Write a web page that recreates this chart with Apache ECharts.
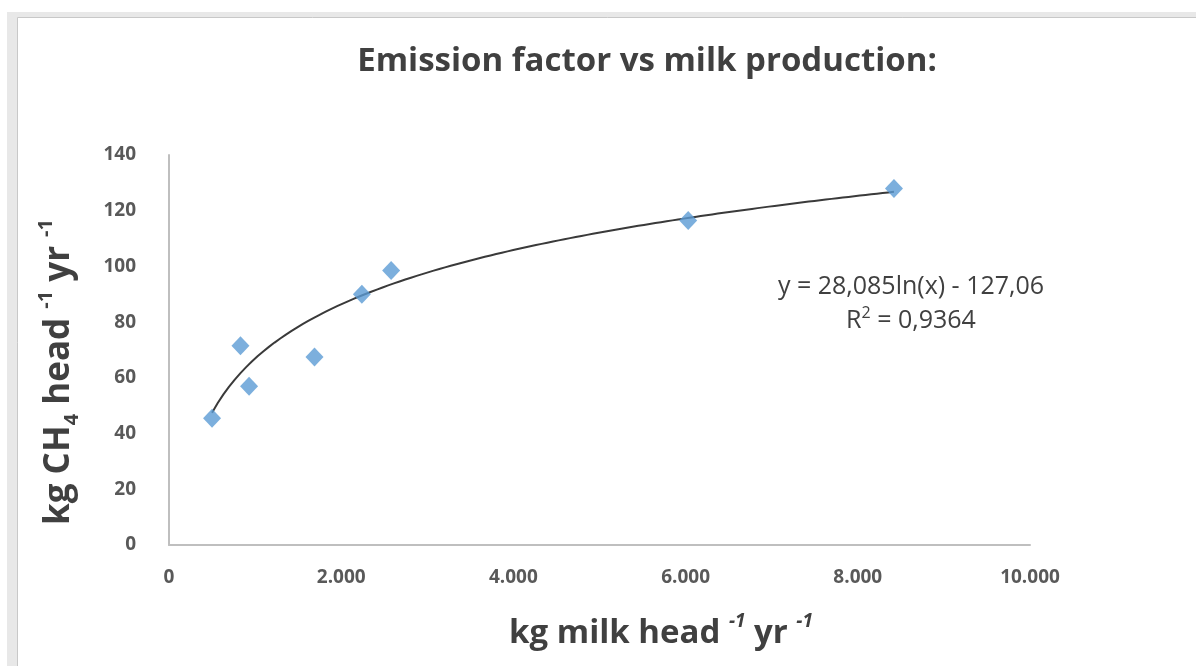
<!DOCTYPE html>
<html><head><meta charset="utf-8">
<script src="https://cdn.jsdelivr.net/npm/echarts@6/dist/echarts.min.js"></script>
<style>html,body{margin:0;padding:0;background:#fff}#c{width:1196px;height:666px}</style>
</head><body><div id="c"></div>
<script>
// data
const milk = [500, 830, 930, 1690, 2240, 2580, 6030, 8420];
const emission = [45.5, 71.5, 57, 67.5, 90, 98.5, 116.5, 128];
const xTicks = [0, 2000, 4000, 6000, 8000, 10000];
const yTicks = [0, 20, 40, 60, 80, 100, 120, 140];
// trendline shown in the chart: y = 28,085 ln(x) - 127,06
const trendA = 28.085, trendB = -127.06;
const trendXStart = 500, trendXEnd = 8420;

const trend = [];
for (let i = 0; i <= 120; i++) {
  const x = trendXStart + (trendXEnd - trendXStart) * i / 120;
  trend.push([x, trendA * Math.log(x) + trendB]);
}
const pts = milk.map((x, i) => [x, emission[i]]);
const FONT = 'Open Sans';
const fmt = v => String(v).replace(/\B(?=(\d{3})+(?!\d))/g, '.');

const chart = echarts.init(document.getElementById('c'), null, {renderer: 'canvas'});
chart.setOption({
  animation: false,
  backgroundColor: '#fff',
  grid: {left: 169, right: 166, top: 155, bottom: 121},
  xAxis: {
    type: 'value', min: xTicks[0], max: xTicks[xTicks.length - 1], interval: 2000,
    splitLine: {show: false},
    axisLine: {show: true, lineStyle: {color: '#bfbfbf', width: 2}},
    axisTick: {show: false},
    axisLabel: {margin: 23, fontFamily: FONT, fontWeight: 'bold', fontSize: 19, color: '#595959', formatter: fmt}
  },
  yAxis: {
    type: 'value', min: yTicks[0], max: yTicks[yTicks.length - 1], interval: 20,
    splitLine: {show: false},
    axisLine: {show: true, lineStyle: {color: '#bfbfbf', width: 2}},
    axisTick: {show: false},
    axisLabel: {margin: 33, fontFamily: FONT, fontWeight: 'bold', fontSize: 19, color: '#595959'}
  },
  series: [
    {type: 'line', data: trend, showSymbol: false, smooth: false,
     lineStyle: {color: '#3a3a3a', width: 2}, z: 2},
    {type: 'scatter', data: pts, symbol: 'diamond', symbolSize: [18, 19],
     itemStyle: {color: '#5b9bd5'}, z: 3}
  ],
  graphic: [
    {type: 'rect', z: -10, shape: {x: 7, y: 12, width: 1200, height: 700}, style: {fill: '#e8e8e8'}},
    {type: 'rect', z: -9, shape: {x: 17.5, y: 17.5, width: 1200, height: 700}, style: {fill: '#fff', stroke: '#c8c8c8', lineWidth: 1}},
    {type: 'text', x: 647, y: 62,
     style: {text: 'Emission factor vs milk production:', fontFamily: FONT, fontWeight: 'bold', fontSize: 33, fill: '#404040', align: 'center', verticalAlign: 'middle'}},
    {type: 'text', x: 911, y: 287,
     style: {text: 'y = 28,085ln(x) - 127,06', fontFamily: FONT, fontSize: 25, fill: '#404040', align: 'center', verticalAlign: 'middle'}},
    {type: 'text', x: 911, y: 321,
     style: {text: '{m|R}{s|2}{m| = 0,9364}', align: 'center', verticalAlign: 'middle',
       rich: {m: {fontFamily: FONT, fontSize: 25, fill: '#404040', lineHeight: 32}, s: {fontFamily: FONT, fontSize: 16, fill: '#404040', verticalAlign: 'top', lineHeight: 24}}}},
    {type: 'text', x: 661, y: 634,
     style: {text: '{m|kg milk head }{s|-1}{m| yr }{s|-1}', align: 'center', verticalAlign: 'middle',
       rich: {m: {fontFamily: FONT, fontWeight: 'bold', fontSize: 33, fill: '#404040', lineHeight: 44},
              s: {fontFamily: FONT, fontWeight: 'bold', fontStyle: 'italic', fontSize: 19, fill: '#404040', verticalAlign: 'top', lineHeight: 26}}}},
    {type: 'text', x: 59, y: 372, rotation: Math.PI / 2,
     style: {text: '{m|kg CH}{b|4}{m| head }{s|-1}{m| yr }{s|-1}', align: 'center', verticalAlign: 'middle',
       rich: {m: {fontFamily: FONT, fontWeight: 'bold', fontSize: 35, fill: '#404040', lineHeight: 46},
              b: {fontFamily: FONT, fontWeight: 'bold', fontSize: 20, fill: '#404040', verticalAlign: 'bottom', lineHeight: 32},
              s: {fontFamily: FONT, fontWeight: 'bold', fontSize: 20, fill: '#404040', verticalAlign: 'top', lineHeight: 28}}}}
  ]
});
</script></body></html>
